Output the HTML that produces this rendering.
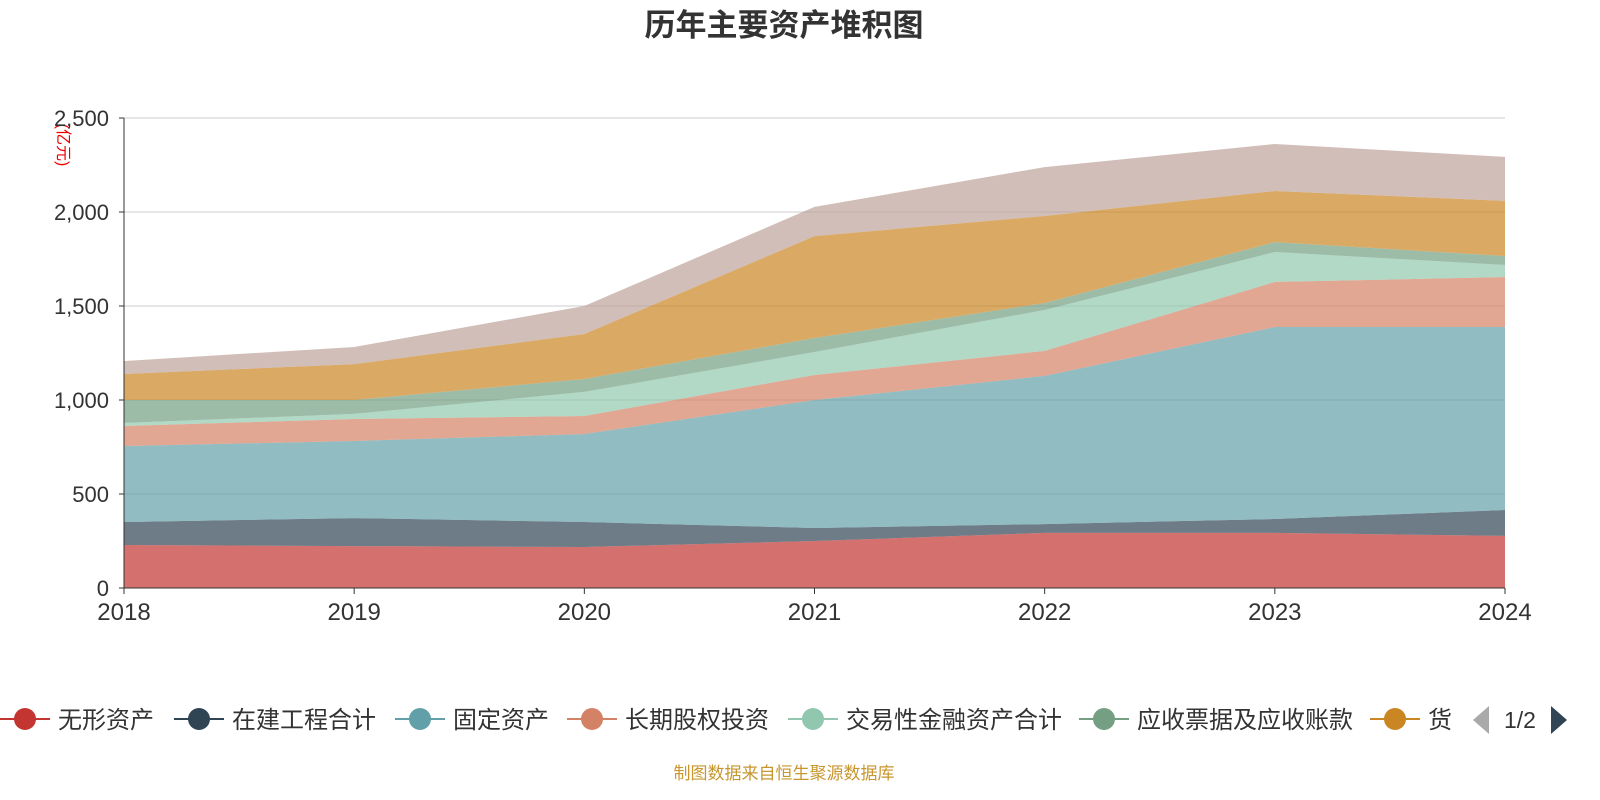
<!DOCTYPE html>
<html><head><meta charset="utf-8">
<style>
body{margin:0;background:#fff;}
svg{display:block;font-family:"Liberation Sans","Noto Sans CJK SC",sans-serif;}
</style></head>
<body>
<svg id="c" width="1600" height="800">
<text x="784" y="36" text-anchor="middle" font-size="31" font-weight="bold" fill="#333">历年主要资产堆积图</text>
<text transform="translate(58,145) rotate(90)" text-anchor="middle" font-size="16" fill="#e00">(亿元)</text>
<g id="grid"></g><g id="areas"></g><g id="axes"></g><g id="legend"></g>
<text x="784" y="779" text-anchor="middle" font-size="17" fill="#c8962e">制图数据来自恒生聚源数据库</text>
</svg>
<script>
const years=["2018","2019","2020","2021","2022","2023","2024"];
const seriesNames=["无形资产","在建工程合计","固定资产","长期股权投资","交易性金融资产合计","应收票据及应收账款","货币资金","其他"];
const s0=[229,223,218,250,293,293,277];
const s1=[122,149,133,69,47,74,138];
const s2=[404,410,468,681,788,1021,973];
const s3=[107,117,96,133,133,240,266];
const s4=[16,27,128,122,218,159,64];
const s5=[122,74,69,75,37,53,48];
const s6=[138,191,239,542,463,272,293];
const s7=[69,91,149,155,260,250,234];
const yTicks=[0,500,1000,1500,2000,2500];
const series=[s0,s1,s2,s3,s4,s5,s6,s7];
const colors=["#c23531","#2f4554","#61a0a8","#d48265","#91c7ae","#749f83","#ca8622","#bda29a"];
const NS="http://www.w3.org/2000/svg";
const X0=124,X1=1505,Y0=588,Y1=118;
const x=i=>X0+(X1-X0)*i/(years.length-1);
const y=v=>Y0-(Y0-Y1)*v/2500;
function mk(t,a,p){const e=document.createElementNS(NS,t);for(const k in a)e.setAttribute(k,a[k]);p.appendChild(e);return e;}
const grid=document.getElementById('grid'),axes=document.getElementById('axes'),areas=document.getElementById('areas'),legend=document.getElementById('legend');
yTicks.forEach(t=>{
 if(t>0){const l=mk('line',{x1:X0,x2:X1,y1:y(t),y2:y(t),stroke:'#ccc','stroke-width':1},grid);
 
 }
 const tx=mk('text',{x:X0-15,y:y(t)+8,'text-anchor':'end','font-size':22,fill:'#333'},axes);
 tx.textContent=t.toLocaleString('en-US');
 
 
});
let cum=years.map(()=>0);
series.forEach((s,k)=>{
 const lo=cum.slice();const hi=cum.map((c,i)=>c+s[i]);
 let d='M'+hi.map((v,i)=>x(i)+','+y(v)).join('L');
 for(let i=years.length-1;i>=0;i--)d+='L'+x(i)+','+y(lo[i]);
 const p=mk('path',{d:d+'Z',fill:colors[k],'fill-opacity':0.7},areas);
 
 
 cum=hi;
});
const ya=mk('line',{x1:X0,x2:X0,y1:Y1,y2:Y0,stroke:'#333'},axes);


const xa=mk('line',{x1:X0,x2:X1,y1:Y0,y2:Y0,stroke:'#333'},axes);


yTicks.forEach(t=>{const l=mk('line',{x1:X0-5,x2:X0,y1:y(t),y2:y(t),stroke:'#333'},axes);
 
 });
years.forEach((yr,i)=>{
 const l=mk('line',{x1:x(i),x2:x(i),y1:Y0,y2:Y0+6,stroke:'#333'},axes);
 
 
 const t=mk('text',{x:x(i),y:Y0+32,'text-anchor':'middle','font-size':24,fill:'#333'},axes);
 t.textContent=yr;
 
 
});
const legX=[25,199,420,592,813,1104,1395];
const legT=["无形资产","在建工程合计","固定资产","长期股权投资","交易性金融资产合计","应收票据及应收账款","货"];
legT.forEach((n,k)=>{
 const g=mk('g',{},legend);
 
 
 mk('line',{x1:legX[k]-25,x2:legX[k]+25,y1:719,y2:719,stroke:colors[k],'stroke-width':2},g);
 mk('circle',{cx:legX[k],cy:719,r:11,fill:colors[k]},g);
 const t=mk('text',{x:legX[k]+33,y:728,'font-size':24,fill:'#333'},g);
 t.textContent=n;
});
const pl=mk('path',{d:'M1489,706L1489,734L1473,720Z',fill:'#aaa'},legend);


const pt=mk('text',{x:1520,y:728,'text-anchor':'middle','font-size':23,fill:'#333'},legend);
pt.textContent='1/2';


const pn=mk('path',{d:'M1551,706L1551,734L1567,720Z',fill:'#2f4554'},legend);


</script>
</body></html>
